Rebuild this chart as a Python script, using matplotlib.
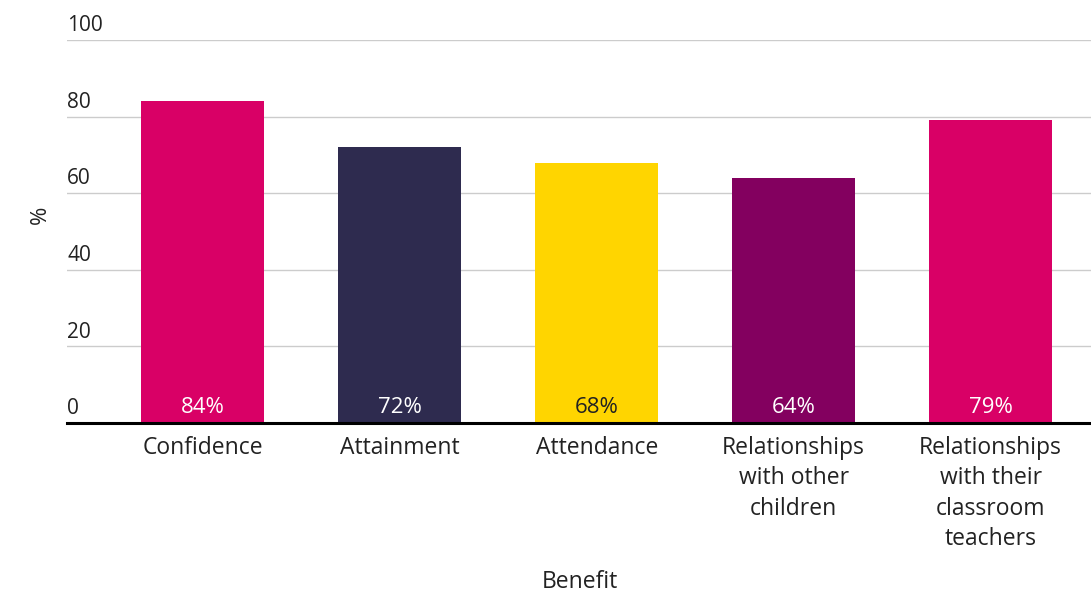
import matplotlib.pyplot as plt

plt.rcParams['font.family'] = ['Open Sans', 'DejaVu Sans']

categories = ["Confidence", "Attainment", "Attendance",
              "Relationships\nwith other\nchildren",
              "Relationships\nwith their\nclassroom\nteachers"]
values = [84, 72, 68, 64, 79]
colors = ["#d90066", "#2e2b4f", "#ffd500", "#83005f", "#d90066"]
label_colors = ["white", "white", "#222222", "white", "white"]
yticks = [0, 20, 40, 60, 80, 100]

fig = plt.figure(figsize=(10.91, 5.92), dpi=100)
ax = fig.add_axes([67 / 1091, 169 / 592, 1 - 67 / 1091, 383 / 592])

x = range(len(categories))
ax.bar(x, values, width=0.625, color=colors, zorder=2)

for i, v in enumerate(values):
    ax.text(i, 4, f"{v}%", ha="center", va="center", fontsize=16,
            color=label_colors[i], zorder=3)

ax.set_xlim(-0.69, 4.51)
ax.set_ylim(0, 100)

# gridlines with labels sitting above them
for t in yticks:
    if t > 0:
        ax.axhline(t, color="#cccccc", lw=1, zorder=1)
    ax.text(0, t + 1.0, str(t), transform=ax.get_yaxis_transform(),
            ha="left", va="bottom", fontsize=15, color="#222222")
ax.axhline(0, color="black", lw=2.2, zorder=4, clip_on=False)

ax.set_yticks([])
ax.set_xticks(list(x))
ax.set_xticklabels(categories, fontsize=16.5, color="#222222", linespacing=1.37)
ax.tick_params(axis="x", length=0, pad=9)
for s in ax.spines.values():
    s.set_visible(False)

fig.text(40 / 1091, 1 - 215 / 592, "%", rotation=90, ha="center", va="center",
         fontsize=16, color="#222222")
fig.text(580 / 1091, 1 - 582 / 592, "Benefit", ha="center", va="center",
         fontsize=16.5, color="#222222")

fig.savefig("out.png", dpi=100)
